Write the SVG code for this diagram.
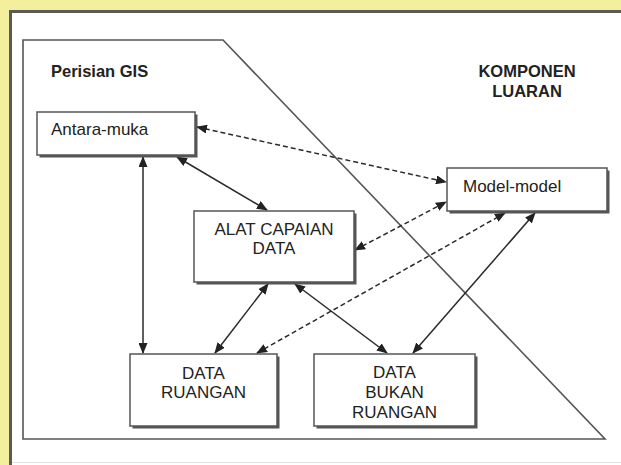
<svg xmlns="http://www.w3.org/2000/svg" width="621" height="465" viewBox="0 0 621 465">
<style>
.lbl{font-family:"Liberation Sans",Arial,sans-serif;font-size:17px;fill:#222}
.hd{font-family:"Liberation Sans",Arial,sans-serif;font-size:16.5px;font-weight:bold;fill:#222}
.box{fill:#fff;stroke:#555;stroke-width:1.5}
.sh{fill:#555}
.ln{stroke:#2a2a2a;stroke-width:1.5;fill:none;marker-start:url(#ah);marker-end:url(#ah)}
.dash{stroke-dasharray:5 3}
</style>
<defs>
<marker id="ah" markerUnits="userSpaceOnUse" markerWidth="11" markerHeight="9" refX="10" refY="4.5" orient="auto-start-reverse">
<path d="M0,0 L11,4.5 L0,9 Z" fill="#222"/>
</marker>
</defs>
<rect x="0" y="0" width="621" height="465" fill="#f3ef9c"/>
<rect x="10" y="11" width="611" height="454" fill="#fff"/>
<path d="M10.5,465 V11.5 H621" fill="none" stroke="#5a5a5a" stroke-width="3"/>
<line x1="12" y1="462.5" x2="621" y2="462.5" stroke="#e2e2e2" stroke-width="1"/>
<path d="M23,40 H223 L605,439 H23 Z" fill="none" stroke="#555" stroke-width="1.6"/>
<text class="hd" x="51" y="77">Perisian GIS</text>
<text class="hd" x="527" y="77" text-anchor="middle">KOMPONEN</text>
<text class="hd" x="527" y="97" text-anchor="middle">LUARAN</text>
<g id="connectors">
<line class="ln" x1="177" y1="157" x2="267" y2="210"/>
<line class="ln" x1="143" y1="157" x2="143" y2="353"/>
<line class="ln dash" x1="197" y1="127" x2="446" y2="182"/>
<line class="ln dash" x1="355" y1="250" x2="446" y2="202"/>
<line class="ln dash" x1="257" y1="353" x2="505" y2="213"/>
<line class="ln" x1="268" y1="284" x2="215" y2="353"/>
<line class="ln" x1="295" y1="284" x2="387" y2="353"/>
<line class="ln" x1="535" y1="213" x2="413" y2="353"/>
</g>
<g id="antara-muka">
<rect class="sh" x="39.5" y="114.5" width="158" height="43"/>
<rect class="box" x="37" y="112" width="158" height="43"/>
<text class="lbl" x="51" y="135">Antara-muka</text>
</g>
<g id="alat-capaian-data">
<rect class="sh" x="196.5" y="213.5" width="160" height="71"/>
<rect class="box" x="194" y="211" width="160" height="71"/>
<text class="lbl" x="274" y="235" text-anchor="middle">ALAT CAPAIAN</text>
<text class="lbl" x="274" y="254" text-anchor="middle">DATA</text>
</g>
<g id="model-model">
<rect class="sh" x="449.5" y="170.5" width="160" height="43"/>
<rect class="box" x="447" y="168" width="160" height="43"/>
<text class="lbl" x="463" y="192">Model-model</text>
</g>
<g id="data-ruangan">
<rect class="sh" x="132.5" y="356.5" width="147" height="72"/>
<rect class="box" x="130" y="354" width="147" height="72"/>
<text class="lbl" x="203.5" y="379" text-anchor="middle">DATA</text>
<text class="lbl" x="203.5" y="398" text-anchor="middle">RUANGAN</text>
</g>
<g id="data-bukan-ruangan">
<rect class="sh" x="316.5" y="356.5" width="161" height="72"/>
<rect class="box" x="314" y="354" width="161" height="72"/>
<text class="lbl" x="394.5" y="378" text-anchor="middle">DATA</text>
<text class="lbl" x="394.5" y="398" text-anchor="middle">BUKAN</text>
<text class="lbl" x="394.5" y="418" text-anchor="middle">RUANGAN</text>
</g>
</svg>
